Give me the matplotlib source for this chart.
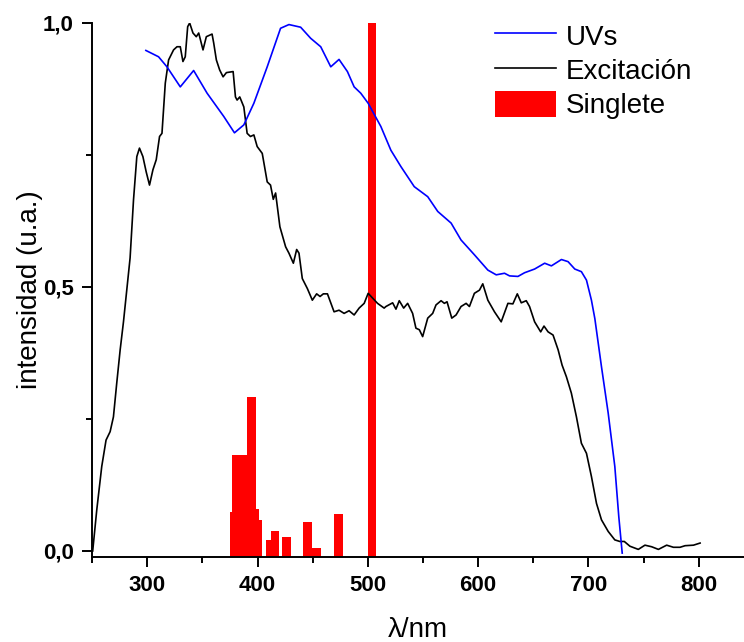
import numpy as np
import matplotlib
matplotlib.use("Agg")
import matplotlib.pyplot as plt
from matplotlib.ticker import MultipleLocator, FuncFormatter

plt.rcParams['font.family'] = ['Liberation Sans', 'DejaVu Sans']

# UV-vis absorption (blue)
uv_nm = [298.8, 310.3, 317.9, 330.0, 342.1, 354.3, 369.4, 379.1, 387.6, 396.7,
         408.8, 420.9, 428.5, 439.1, 448.2, 457.3, 466.4, 473.9, 481.5, 487.6,
         493.6, 500.3, 511.8, 520.9, 530.0, 542.1, 554.3, 563.4, 575.5, 584.5,
         596.6, 608.8, 616.4, 623.9, 628.5, 636.1, 642.1, 651.2, 660.3, 666.4,
         675.5, 681.5, 687.6, 693.6, 698.2, 702.7, 705.8, 711.8, 717.9, 723.9,
         727.5, 730.6]
uv_val = [0.948, 0.936, 0.917, 0.879, 0.910, 0.867, 0.823, 0.792, 0.807, 0.848,
          0.917, 0.990, 0.997, 0.992, 0.971, 0.955, 0.917, 0.931, 0.908, 0.879,
          0.867, 0.848, 0.804, 0.759, 0.728, 0.690, 0.671, 0.643, 0.621, 0.589,
          0.561, 0.532, 0.523, 0.526, 0.521, 0.520, 0.527, 0.534, 0.545, 0.540,
          0.552, 0.548, 0.534, 0.529, 0.513, 0.475, 0.440, 0.349, 0.261, 0.160,
          0.065, -0.004]

# excitation spectrum (black)
exc_nm = [250.6, 254.3, 258.8, 262.7, 266.4, 269.4, 272.4, 275.5, 278.5, 281.5,
          284.5, 287.6, 290.6, 293.0, 296.1, 299.1, 302.1, 305.2, 308.2, 311.2,
          313.4, 316.4, 319.4, 322.5, 323.9, 327.0, 330.0, 332.4, 334.5, 336.7,
          338.5, 341.5, 344.5, 346.7, 350.6, 353.6, 358.8, 360.3, 362.7, 365.7,
          368.8, 371.8, 377.9, 380.0, 381.5, 383.9, 387.6, 390.6, 393.6, 396.7,
          399.7, 404.3, 408.8, 411.8, 414.3, 416.4, 420.3, 425.5, 428.5, 432.5,
          435.5, 437.6, 440.6, 445.2, 449.7, 453.6, 456.7, 459.7, 463.4, 469.4,
          473.9, 478.5, 483.0, 487.6, 492.1, 496.7, 500.3, 508.8, 514.8, 516.4,
          522.5, 525.5, 528.5, 532.5, 536.1, 540.6, 543.6, 546.7, 549.7, 554.3,
          558.8, 561.8, 566.4, 569.4, 571.8, 576.1, 580.0, 584.5, 589.1, 592.1,
          596.6, 601.2, 604.2, 608.8, 614.8, 620.9, 627.0, 631.5, 635.5, 639.1,
          643.6, 646.6, 651.2, 656.7, 659.7, 663.4, 667.9, 672.5, 676.1, 680.0,
          684.5, 689.1, 693.6, 698.2, 702.7, 707.3, 711.8, 717.9, 723.9, 728.5,
          732.5, 737.6, 745.2, 751.2, 757.3, 763.4, 770.9, 777.0, 783.0, 787.6,
          795.2, 801.2]
exc_val = [0.000, 0.078, 0.160, 0.210, 0.226, 0.254, 0.318, 0.381, 0.434, 0.494,
           0.555, 0.665, 0.747, 0.763, 0.747, 0.718, 0.693, 0.722, 0.741, 0.785,
           0.791, 0.886, 0.930, 0.943, 0.949, 0.955, 0.955, 0.927, 0.936, 0.993,
           1.000, 0.981, 0.974, 0.981, 0.949, 0.974, 0.979, 0.962, 0.930, 0.911,
           0.898, 0.906, 0.908, 0.860, 0.854, 0.860, 0.841, 0.791, 0.785, 0.788,
           0.766, 0.753, 0.699, 0.693, 0.666, 0.678, 0.614, 0.576, 0.564, 0.545,
           0.571, 0.564, 0.516, 0.497, 0.475, 0.487, 0.482, 0.487, 0.487, 0.453,
           0.456, 0.450, 0.455, 0.447, 0.460, 0.469, 0.488, 0.469, 0.460, 0.463,
           0.470, 0.458, 0.474, 0.460, 0.469, 0.450, 0.422, 0.419, 0.406, 0.441,
           0.450, 0.466, 0.474, 0.469, 0.472, 0.441, 0.447, 0.463, 0.469, 0.463,
           0.488, 0.494, 0.506, 0.475, 0.453, 0.434, 0.469, 0.468, 0.487, 0.470,
           0.474, 0.463, 0.434, 0.415, 0.426, 0.415, 0.409, 0.381, 0.352, 0.330,
           0.299, 0.254, 0.204, 0.185, 0.141, 0.090, 0.059, 0.037, 0.021, 0.018,
           0.018, 0.009, 0.003, 0.011, 0.008, 0.003, 0.011, 0.007, 0.007, 0.010,
           0.011, 0.015]

# singlet transitions (red bars)
sing_nm = [378.8, 380.9, 386.1, 394.4, 397.3, 400.3, 411.5, 415.8, 426.6,
           445.5, 453.5, 473.5, 503.8]
sing_val = [0.074, 0.181, 0.181, 0.291, 0.079, 0.058, 0.021, 0.038, 0.027,
            0.054, 0.006, 0.070, 1.0]

ymin = -0.0114

fig = plt.figure(figsize=(7.44, 6.42), dpi=100)
ax = fig.add_axes([0.1237, 0.1324, 0.8763, 0.8318])

sing_h = [v - ymin for v in sing_val]
ax.bar(sing_nm, sing_h, width=8, bottom=ymin, color='#ff0000',
       linewidth=0, label='Singlete', zorder=1)
ax.plot(uv_nm, uv_val, color='#0000ff', lw=1.2, label='UVs', zorder=3)
ax.plot(exc_nm, exc_val, color='black', lw=1.2, label='Excitación', zorder=2)

ax.set_xlim(250, 841)
ax.set_ylim(ymin, 1.0)

for s in ['top', 'right']:
    ax.spines[s].set_visible(False)
for s in ['left', 'bottom']:
    ax.spines[s].set_linewidth(1.4)

ax.xaxis.set_major_locator(MultipleLocator(100))
ax.xaxis.set_minor_locator(MultipleLocator(50))
ax.yaxis.set_major_locator(MultipleLocator(0.5))
ax.yaxis.set_minor_locator(MultipleLocator(0.25))
ax.yaxis.set_major_formatter(FuncFormatter(lambda v, p: ('%.1f' % v).replace('.', ',')))
ax.set_xticks([300, 400, 500, 600, 700, 800])

ax.tick_params(which='major', direction='out', length=7, width=1.4, pad=6,
               labelsize=16)
ax.tick_params(which='minor', direction='out', length=4.5, width=1.4)
for lab in ax.get_xticklabels() + ax.get_yticklabels():
    lab.set_fontweight('bold')

ax.set_ylabel('intensidad (u.a.)', fontsize=20, labelpad=0)
ax.set_xlabel('λ/nm', fontsize=20, labelpad=15)

h, l = ax.get_legend_handles_labels()
order = [l.index('UVs'), l.index('Excitación'), l.index('Singlete')]
ax.legend([h[i] for i in order], [l[i] for i in order], loc='upper left',
          bbox_to_anchor=(495 / 744, 1 - 22 / 642),
          bbox_transform=fig.transFigure, frameon=False, fontsize=20,
          handlelength=2.2, handleheight=1.1, handletextpad=0.35,
          labelspacing=0.2, borderpad=0, borderaxespad=0)

fig.savefig('out.png', dpi=100)
